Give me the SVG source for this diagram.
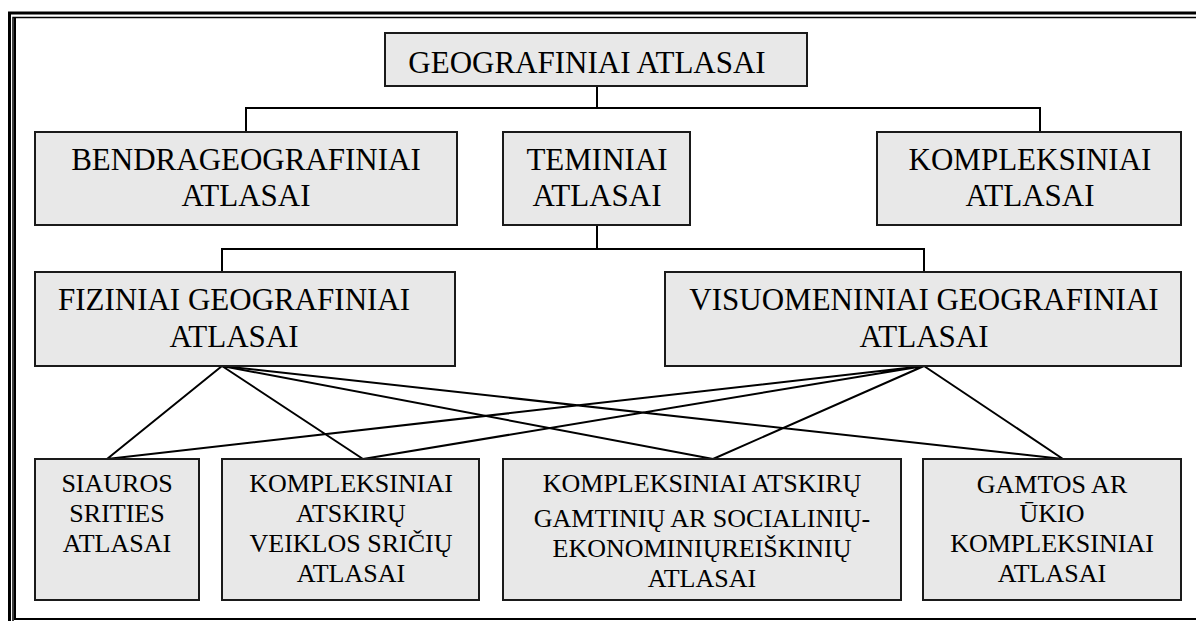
<svg xmlns="http://www.w3.org/2000/svg" width="1196" height="621" viewBox="0 0 1196 621">
<style>
.box{fill:#e8e8e8;stroke:#1a1a1a;stroke-width:2}
text{font-family:"Liberation Serif","Times New Roman",serif;fill:#000;text-anchor:middle}
.t{font-size:31px}
.s{font-size:26px}
.c{fill:none;stroke:#000;stroke-width:2}
.f{fill:none;stroke:#000}
</style>
<rect x="0" y="0" width="1196" height="621" fill="#fff"/>
<g id="frame">
<path class="f" d="M9.5,621 V13 H1196" stroke-width="3"/>
<path class="f" d="M13,621 V17.5 H1196" stroke-width="1.5"/>
<path class="f" d="M15,18 V619 H1196" stroke-width="2"/>
</g>
<g id="connectors">
<path class="c" d="M597,86 V108 M246,132 V108 H1040 V132"/>
<path class="c" d="M597,225 V249 M222,272 V249 H924 V272"/>
<path class="c" d="M222,366 L107,459 M222,366 L363,459 M222,366 L1063,459 M924,366 L107,459 M924,366 L363,459 M924,366 L713,459 M924,366 L1063,459"/>
<path class="c" d="M222,366 L713,459" stroke-width="2.6"/>
</g>
<g id="n-geo">
<rect class="box" x="385" y="33" width="422" height="53"/>
<text class="t" x="587" y="73">GEOGRAFINIAI ATLASAI</text>
</g>
<g id="n-bendra">
<rect class="box" x="35" y="132" width="422" height="93"/>
<text class="t" x="246" y="170">BENDRAGEOGRAFINIAI</text>
<text class="t" x="246" y="206">ATLASAI</text>
</g>
<g id="n-teminiai">
<rect class="box" x="503" y="132" width="187" height="93"/>
<text class="t" x="597" y="170">TEMINIAI</text>
<text class="t" x="597" y="206">ATLASAI</text>
</g>
<g id="n-kompleksiniai">
<rect class="box" x="877" y="132" width="304" height="93"/>
<text class="t" x="1030" y="170">KOMPLEKSINIAI</text>
<text class="t" x="1030" y="206">ATLASAI</text>
</g>
<g id="n-fiziniai">
<rect class="box" x="35" y="272" width="420" height="94"/>
<text class="t" x="234" y="310">FIZINIAI GEOGRAFINIAI</text>
<text class="t" x="234" y="347">ATLASAI</text>
</g>
<g id="n-visuomeniniai">
<rect class="box" x="665" y="272" width="516" height="94"/>
<text class="t" x="924" y="310">VISUOMENINIAI GEOGRAFINIAI</text>
<text class="t" x="924" y="347">ATLASAI</text>
</g>
<g id="n-siauros">
<rect class="box" x="35" y="459" width="164" height="141"/>
<text class="s" x="117" y="492">SIAUROS</text>
<text class="s" x="117" y="522">SRITIES</text>
<text class="s" x="117" y="552">ATLASAI</text>
</g>
<g id="n-veiklos">
<rect class="box" x="222" y="459" width="257" height="141"/>
<text class="s" x="351" y="492">KOMPLEKSINIAI</text>
<text class="s" x="351" y="522">ATSKIRŲ</text>
<text class="s" x="351" y="552">VEIKLOS SRIČIŲ</text>
<text class="s" x="351" y="582">ATLASAI</text>
</g>
<g id="n-reiskiniu">
<rect class="box" x="503" y="459" width="398" height="141"/>
<text class="s" x="702" y="492">KOMPLEKSINIAI ATSKIRŲ</text>
<text class="s" x="702" y="527">GAMTINIŲ AR SOCIALINIŲ-</text>
<text class="s" x="702" y="557">EKONOMINIŲREIŠKINIŲ</text>
<text class="s" x="702" y="587">ATLASAI</text>
</g>
<g id="n-gamtos">
<rect class="box" x="923" y="459" width="258" height="141"/>
<text class="s" x="1052" y="493">GAMTOS AR</text>
<text class="s" x="1052" y="522">ŪKIO</text>
<text class="s" x="1052" y="552">KOMPLEKSINIAI</text>
<text class="s" x="1052" y="582">ATLASAI</text>
</g>
</svg>
